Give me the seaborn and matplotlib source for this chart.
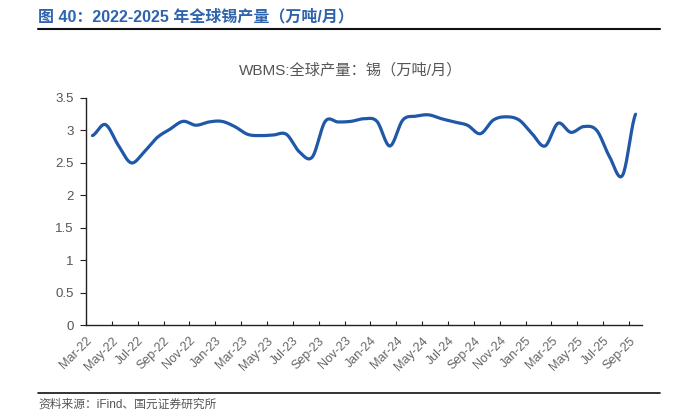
import numpy as np
import pandas as pd
import matplotlib
matplotlib.use("Agg")
import matplotlib.pyplot as plt
import seaborn as sns

# ---- data ----
months = pd.date_range("2022-03-01", "2025-09-01", freq="MS").strftime("%b-%y").tolist()
production = [2.92, 3.09, 2.77, 2.50, 2.67, 2.89, 3.02, 3.14, 3.08, 3.13,
              3.14, 3.06, 2.94, 2.92, 2.93, 2.94, 2.67, 2.59, 3.14, 3.13,
              3.14, 3.18, 3.14, 2.76, 3.16, 3.22, 3.24, 3.18, 3.13, 3.08,
              2.95, 3.16, 3.21, 3.16, 2.95, 2.76, 3.11, 2.97, 3.06, 3.00,
              2.59, 2.31, 3.25]
tick_labels = months[::2]
yticks = [0, 0.5, 1, 1.5, 2, 2.5, 3, 3.5]

title = "图 40：2022-2025 年全球锡产量（万吨/月）"
chart_title = "WBMS:全球产量：锡（万吨/月）"
source = "资料来源：iFind、国元证券研究所"

# ---- smooth curve (Catmull-Rom through the data points) ----
def catmull_rom(y, n=20):
    y = np.asarray(y, float)
    p = np.concatenate([[y[0]], y, [y[-1]]])
    xs, ys = [], []
    for i in range(len(y) - 1):
        p0, p1, p2, p3 = p[i], p[i + 1], p[i + 2], p[i + 3]
        t = np.linspace(0, 1, n, endpoint=False)
        v = 0.5 * ((2 * p1) + (-p0 + p2) * t + (2 * p0 - 5 * p1 + 4 * p2 - p3) * t ** 2
                   + (-p0 + 3 * p1 - 3 * p2 + p3) * t ** 3)
        xs.append(i + t)
        ys.append(v)
    xs.append([len(y) - 1])
    ys.append([y[-1]])
    return np.concatenate(xs), np.concatenate(ys)

sx, sy = catmull_rom(production)
df = pd.DataFrame({"x": sx, "y": sy})

sns.set_theme(style="white")
plt.rcParams["font.family"] = ["Liberation Sans", "Noto Sans CJK SC", "DejaVu Sans"]

fig = plt.figure(figsize=(6.86, 4.12), dpi=100)
ax = fig.add_axes([86 / 686, 1 - 325 / 412, (642 - 86) / 686, (325 - 98) / 412])

sns.lineplot(data=df, x="x", y="y", ax=ax, color="#1F58A8", linewidth=2.3, sort=False)

ax.set_xlim(-0.5, len(production) - 0.5)
ax.set_ylim(0, 3.5)
ax.set_yticks(yticks)
ax.set_yticklabels([f"{v:g}" for v in yticks])
ax.set_xticks(np.arange(len(tick_labels)) * 2 - 0.5)
ax.set_xticklabels(tick_labels, rotation=45, ha="right", rotation_mode="anchor")
ax.set_xlabel("")
ax.set_ylabel("")

for s in ["top", "right"]:
    ax.spines[s].set_visible(False)
for s in ["left", "bottom"]:
    ax.spines[s].set_color("#222222")
    ax.spines[s].set_linewidth(1.0)

ax.tick_params(axis="y", direction="out", length=4, width=0.8, color="#222222",
               labelsize=9.5, labelcolor="#555555", pad=5, left=True)
ax.tick_params(axis="x", direction="in", length=3, width=0.8, color="#222222",
               labelsize=9, labelcolor="#666666", pad=7, bottom=True)

fig.text(351 / 686, 1 - 70 / 412, chart_title, fontsize=11, color="#555555",
         va="center", ha="center")

fig.text(38 / 686, 1 - 17 / 412, title, fontsize=11.5, fontweight="bold",
         color="#2E63AE", va="center", ha="left")
fig.add_artist(plt.Line2D([38 / 686, 660 / 686], [1 - 29 / 412, 1 - 29 / 412],
                          color="#111111", linewidth=1.5))
fig.add_artist(plt.Line2D([38 / 686, 660 / 686], [1 - 393 / 412, 1 - 393 / 412],
                          color="#111111", linewidth=1.2))
fig.text(38 / 686, 1 - 405 / 412, source, fontsize=8.5, color="#555555",
         va="center", ha="left")

fig.savefig("out.png", dpi=100)
